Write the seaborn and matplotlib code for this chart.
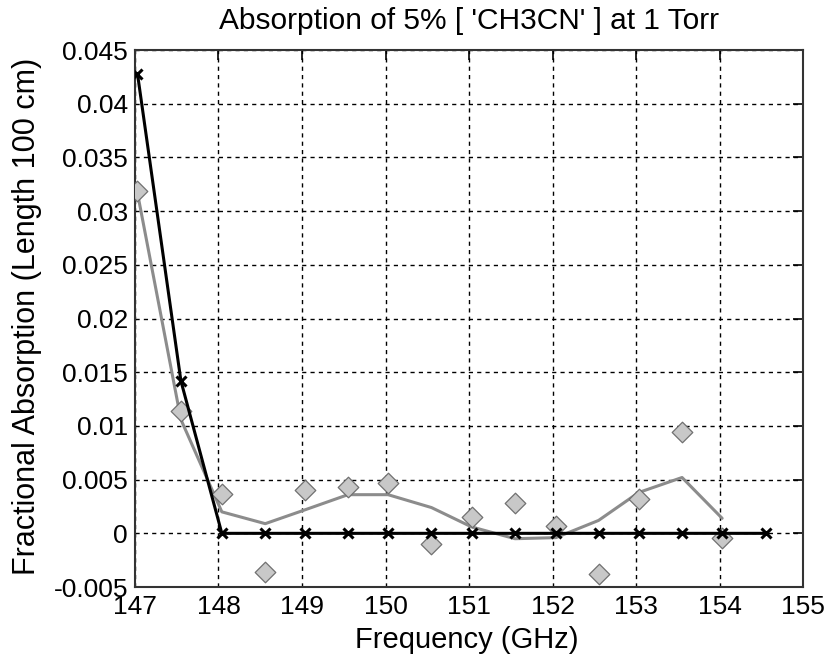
import matplotlib
matplotlib.use("Agg")
import matplotlib.pyplot as plt
import seaborn as sns
import pandas as pd

# frequencies (GHz) of the sample points
freq = [147.03, 147.55, 148.04, 148.56, 149.04, 149.55, 150.03, 150.55,
        151.03, 151.55, 152.04, 152.55, 153.03, 153.55, 154.03, 154.55]

# model absorption (black line with x markers)
model = [0.0428, 0.0142, 0.0, 0.0, 0.0, 0.0, 0.0, 0.0,
         0.0, 0.0, 0.0, 0.0, 0.0, 0.0, 0.0, 0.0]

# measured absorption (grey diamonds), no point at the last frequency
measured = [0.0319, 0.0114, 0.0037, -0.0036, 0.0040, 0.0043, 0.0047, -0.0010,
            0.0015, 0.0028, 0.0007, -0.0038, 0.0032, 0.0094, -0.0004]

# smoothed measurement (grey line)
smooth = [0.0317, 0.0106, 0.0020, 0.0009, 0.0022, 0.0036, 0.0036, 0.0024,
          0.0006, -0.0005, -0.0004, 0.0012, 0.0038, 0.0052, 0.0014]

xticks = [147, 148, 149, 150, 151, 152, 153, 154, 155]
yticks = [-0.005, 0, 0.005, 0.01, 0.015, 0.02, 0.025, 0.03, 0.035, 0.04, 0.045]
ytick_labels = ['-0.005', '0', '0.005', '0.01', '0.015', '0.02', '0.025',
                '0.03', '0.035', '0.04', '0.045']

sns.set_style("white")
plt.rcParams['font.family'] = ['Liberation Sans', 'DejaVu Sans']
plt.rcParams['text.color'] = 'black'
plt.rcParams['axes.labelcolor'] = 'black'

df_model = pd.DataFrame({'f': freq, 'a': model})
df_meas = pd.DataFrame({'f': freq[:len(measured)], 'a': measured})
df_smooth = pd.DataFrame({'f': freq[:len(smooth)], 'a': smooth})

fig = plt.figure(figsize=(8.28, 6.54), dpi=100)
ax = fig.add_axes([0.163, 0.1024, 0.807, 0.821])

sns.lineplot(data=df_smooth, x='f', y='a', ax=ax, color='#8c8c8c', lw=2.2, zorder=3)
sns.scatterplot(data=df_meas, x='f', y='a', ax=ax, marker='D', s=110,
                color='#c8c8c8', edgecolor='#707070', linewidth=0.9, zorder=4)
sns.lineplot(data=df_model, x='f', y='a', ax=ax, color='black', lw=2.2,
             marker='x', markersize=7, markeredgewidth=2.2,
             markeredgecolor='black', zorder=5)

ax.set_xlim(147, 155)
ax.set_ylim(-0.005, 0.045)
ax.set_xticks(xticks)
ax.set_xticklabels([str(t) for t in xticks])
ax.set_yticks(yticks)
ax.set_yticklabels(ytick_labels)
ax.grid(True, color='black', linestyle=(0, (3, 3)), linewidth=1.0)
ax.set_axisbelow(True)
ax.tick_params(direction='in', length=7, width=1.2, top=True, right=True,
               labelsize=19, colors='black')
ax.tick_params(axis='x', pad=6)
ax.tick_params(axis='y', pad=5)
for s in ax.spines.values():
    s.set_color('#333333')
    s.set_linewidth(1.5)

ax.set_xlabel('Frequency (GHz)', fontsize=21, color='black')
ax.xaxis.set_label_coords(0.497, -0.072)
ax.set_ylabel('Fractional Absorption (Length 100 cm)', fontsize=22, color='black')
ax.yaxis.set_label_coords(-0.139, 0.505)
ax.set_title("Absorption of 5% [ 'CH3CN' ] at 1 Torr", fontsize=21.5, pad=15,
             color='black')

fig.savefig('out.png', dpi=100)
